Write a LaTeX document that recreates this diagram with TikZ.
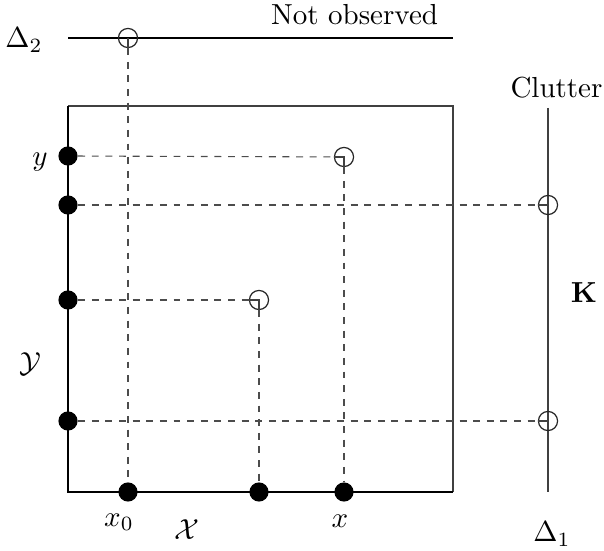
\documentclass[tikz,border=0pt]{standalone}
\usepackage{amsmath}
\begin{document}
\begin{tikzpicture}[x=0.345pt,y=-0.345pt,
  dot/.style={circle,fill=black,inner sep=0pt,minimum size=6.6pt},
  odot/.style={circle,draw=black!85,line width=0.42pt,inner sep=0pt,minimum size=6.6pt},
  dline/.style={draw=black!70,line width=0.38pt,dash pattern=on 2.4pt off 2.3pt},
  thickline/.style={line width=0.75pt,black},
  thinline/.style={line width=0.42pt,black!75},
  lbl/.style={inner sep=0pt}]
\useasboundingbox (0,0) rectangle (604,550);
% frame corners
\coordinate (tl) at (68,106);
\coordinate (tr) at (453,106);
\coordinate (bl) at (68,492);
\coordinate (br) at (453,492);
\coordinate (d2a) at (68,38);
\coordinate (d2b) at (453,38);
\coordinate (c1) at (548,108);
\coordinate (c2) at (548,492);
\draw[thinline] (tl) -- (tr) -- (br);
\draw[thickline] (tl) -- (bl) -- (br);
\draw[thickline] (d2a) -- (d2b);
\draw[thinline] (c1) -- (c2);
% points
\node[dot] (y1) at (68,156) {};
\node[dot] (y2) at (68,205) {};
\node[dot] (y3) at (68,300) {};
\node[dot] (y4) at (68,421) {};
\node[dot] (x0) at (128,492) {};
\node[dot] (xm) at (259,492) {};
\node[dot] (xx) at (344,492) {};
\node[odot] (o0) at (128,38) {};
\node[odot] (o1) at (344,157) {};
\node[odot] (o2) at (259,300) {};
\node[odot] (k1) at (548,205) {};
\node[odot] (k2) at (548,421) {};
% dashed connectors
\draw[dline] (o0) -- (x0);
\draw[dline] (y1) -- (o1);
\draw[dline] (o1) -- (xx);
\draw[dline] (y3) -- (o2);
\draw[dline] (o2) -- (xm);
\draw[dline] (y2) -- (k1);
\draw[dline] (y4) -- (k2);
% solid parts inside the circles
\draw[thinline] (o0.center) -- (o0.south);
\draw[thinline] (o1.west) -- (o1.center) -- (o1.south);
\draw[thinline] (o2.west) -- (o2.center) -- (o2.south);
\draw[thinline] (k1.west) -- (k1.center);
\draw[thinline] (k2.west) -- (k2.center);
% labels
\node[lbl] (ld2) at (24,40) {$\Delta_2$};
\node[lbl] (lno) at (354.5,15) {Not observed};
\node[lbl] (lcl) at (556.5,88) {Clutter};
\node[lbl] (lK) at (584,293) {$\mathbf{K}$};
\node[lbl] (ld1) at (552,534) {$\Delta_1$};
\node[lbl] (ly) at (40,162) {$y$};
\node[lbl] (lY) at (30,364) {$\mathcal{Y}$};
\node[lbl] (lx0) at (119,522) {$x_0$};
\node[lbl] (lX) at (187,530) {$\mathcal{X}$};
\node[lbl] (lx) at (340,521) {$x$};
\end{tikzpicture}
\end{document}
